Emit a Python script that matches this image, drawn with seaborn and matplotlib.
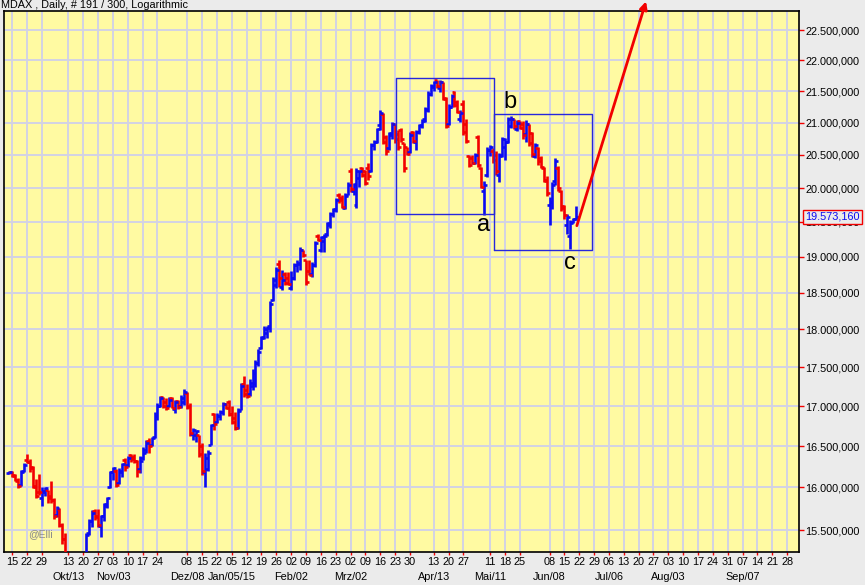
import numpy as np
import pandas as pd
import matplotlib
matplotlib.use('Agg')
import matplotlib.pyplot as plt
import matplotlib.transforms as mtransforms
from matplotlib.ticker import FixedLocator, NullLocator
import seaborn as sns

sns.set_theme(style='white')
plt.rcParams['font.family'] = ['Liberation Sans', 'DejaVu Sans']

# ---------------- data (MDAX daily OHLC) ----------------
opens = [16170,16190,16150,16080,16030,16200,16330,16300,16240,16000,
         15950,15880,15940,15970,15900,15850,15680,15740,15560,15400,
         15150,14950,15000,14650,14800,15050,15050,15460,15600,15720,
         15660,15550,15660,15800,16000,16180,16200,16050,16180,16330,
         16270,16390,16370,16320,16220,16350,16420,16560,16520,16610,
         16880,17000,17110,17050,17000,17100,16960,17060,17000,17050,
         17170,17000,16650,16640,16640,16500,16180,16220,16520,16900,
         16800,16880,16920,17020,17050,16900,16850,16720,16950,17280,
         17200,17150,17250,17300,17560,17750,17900,17950,18050,18400,
         18600,18900,18580,18760,18700,18560,18700,18880,18900,19100,
         18950,18800,18760,18880,19300,19100,19230,19320,19450,19620,
         19690,19900,19850,19700,19900,20250,19950,19750,20150,20300,
         20250,20300,20260,20650,20700,20960,21130,20780,20600,20800,
         20980,20820,20880,20690,20620,20550,20860,20700,20860,20960,
         21050,21200,21450,21560,21670,21550,21640,21390,20980,21250,
         21480,21330,21050,21300,20980,20480,20460,20380,20780,20300,
         19950,20200,20580,20560,20500,20200,20500,20620,20700,20950,
         21050,20900,21020,20980,20820,20980,20840,20480,20600,20450,
         20300,20100,19750,19800,20100,20300,19950,19740,19450,19300,
         19500,19540]
highs = [16200,16200,16160,16110,16210,16290,16400,16340,16260,16100,
         16160,16000,16010,15975,16080,15870,15780,15760,15580,15470,
         15200,15150,15050,14900,15100,15150,15460,15630,15730,15740,
         15740,15680,15820,15890,16200,16250,16220,16230,16290,16350,
         16380,16400,16400,16330,16380,16490,16570,16600,16610,16920,
         17040,17130,17120,17100,17110,17110,17080,17080,17140,17220,
         17180,17040,16720,16700,16640,16540,16410,16450,16770,16910,
         16910,16950,17050,17040,17080,17000,16930,16970,17300,17380,
         17280,17350,17470,17600,17740,17910,18040,18040,18380,18720,
         18860,18960,18820,18790,18780,18800,18920,18950,19140,19100,
         18960,18960,18930,19230,19320,19300,19320,19500,19650,19700,
         19850,19920,19890,19920,20090,20300,20080,20300,20270,20320,
         20270,20380,20690,20730,20920,21200,21150,20800,20860,21010,
         20980,20890,20920,20690,20620,20860,20870,20890,20970,21050,
         21240,21500,21610,21660,21680,21670,21640,21400,21300,21450,
         21500,21350,21200,21350,21050,20500,20500,20530,20810,20320,
         20100,20620,20650,20600,20560,20530,20780,20760,21080,21100,
         21050,21040,21030,21020,21040,20980,20850,20680,20620,20480,
         20320,20180,19860,20090,20460,20330,19970,19750,19620,19530,
         19560,19740]
lows = [16160,16120,16080,15990,16020,16180,16290,16190,15990,15870,
        15910,15780,15900,15820,15810,15630,15650,15530,15340,15050,
        14900,14850,14600,14450,14750,14900,15000,15440,15540,15620,
        15540,15420,15600,15760,15990,16090,16000,16040,16120,16200,
        16250,16300,16290,16120,16170,16330,16410,16420,16500,16600,
        16830,16990,16970,16950,16990,16970,16910,16960,16970,17010,
        16960,16620,16580,16550,16370,16150,16000,16200,16510,16700,
        16790,16830,16890,16960,16880,16780,16700,16710,16950,17120,
        17100,17130,17210,17240,17510,17740,17870,17880,17970,18380,
        18560,18580,18540,18610,18610,18540,18680,18780,18820,19000,
        18610,18740,18720,18860,19220,19070,19070,19300,19410,19580,
        19650,19780,19700,19690,19890,19940,19890,19700,20010,20170,
        20050,20120,20240,20580,20690,20890,20660,20500,20580,20740,
        20690,20580,20700,20240,20500,20530,20680,20580,20820,20920,
        21010,21170,21420,21500,21550,21480,21350,20920,20960,21240,
        21240,21150,21010,20800,20690,20320,20360,20360,20320,20000,
        19600,20170,20480,20380,20200,20090,20470,20420,20690,20920,
        20900,20870,20900,20740,20700,20640,20470,20460,20350,20300,
        20090,19880,19460,19690,20050,19950,19660,19550,19320,19110,
        19480,19530]
closes = [16190,16140,16090,16020,16180,16270,16300,16230,16020,15900,
          15940,15960,15990,15880,15850,15660,15760,15560,15400,15150,
          14950,15000,14700,14750,15050,15000,15440,15600,15700,15650,
          15560,15660,15780,15870,16180,16230,16030,16200,16280,16250,
          16350,16340,16320,16200,16320,16450,16540,16500,16600,16880,
          17000,17100,17000,16980,17080,16980,17050,16990,17100,17180,
          16990,16660,16700,16690,16400,16200,16350,16420,16760,16780,
          16880,16930,17020,16980,16900,16800,16720,16940,17250,17150,
          17130,17300,17430,17560,17700,17880,18000,18020,18350,18680,
          18820,18700,18680,18640,18620,18700,18880,18920,19100,19020,
          18650,18750,18880,19200,19240,19280,19300,19480,19620,19680,
          19820,19820,19720,19880,20050,19980,20060,20250,20260,20200,
          20080,20180,20650,20700,20900,21150,20700,20560,20830,20980,
          20750,20620,20740,20300,20520,20800,20720,20850,20950,21020,
          21220,21450,21580,21640,21580,21640,21380,20950,21250,21420,
          21280,21170,21150,20850,20720,20340,20380,20500,20350,20020,
          20050,20580,20620,20420,20250,20480,20750,20700,21050,21050,
          20940,21000,20920,20800,20980,20680,20520,20650,20400,20320,
          20120,19920,19800,20050,20400,20000,19700,19600,19580,19480,
          19540,19573.16]

holidays = ['2014-10-03', '2014-12-24', '2014-12-25', '2014-12-26', '2014-12-31',
            '2015-01-01', '2015-04-03', '2015-04-06', '2015-05-01']
tick_dates = ['2014-09-15', '2014-09-22', '2014-09-29', '2014-10-13', '2014-10-20',
              '2014-10-27', '2014-11-03', '2014-11-10', '2014-11-17', '2014-11-24',
              '2014-12-08', '2014-12-15', '2014-12-22', '2015-01-05', '2015-01-12',
              '2015-01-19', '2015-01-26', '2015-02-02', '2015-02-09', '2015-02-16',
              '2015-02-23', '2015-03-02', '2015-03-09', '2015-03-16', '2015-03-23',
              '2015-03-30', '2015-04-13', '2015-04-20', '2015-04-27', '2015-05-11',
              '2015-05-18', '2015-05-25', '2015-06-08', '2015-06-15', '2015-06-22',
              '2015-06-29', '2015-07-06', '2015-07-13', '2015-07-20', '2015-07-27',
              '2015-08-03', '2015-08-10', '2015-08-17', '2015-08-24', '2015-08-31',
              '2015-09-07', '2015-09-14', '2015-09-21', '2015-09-28']
month_dates = ['2014-10-13', '2014-11-03', '2014-12-08', '2015-01-05', '2015-02-02',
               '2015-03-02', '2015-04-13', '2015-05-11', '2015-06-08', '2015-07-06',
               '2015-08-03', '2015-09-07']
month_labels = ['Okt/13', 'Nov/03', 'Dez/08', 'Jan/05/15', 'Feb/02', 'Mrz/02',
                'Apr/13', 'Mai/11', 'Jun/08', 'Jul/06', 'Aug/03', 'Sep/07']
price_ticks = [15500, 16000, 16500, 17000, 17500, 18000, 18500, 19000,
               19500, 20000, 20500, 21000, 21500, 22000, 22500]
last_price = 19573.16


def de_fmt(v):
    return f"{v:,.3f}".replace(',', 'X').replace('.', ',').replace('X', '.')


# ---------------- trading-day axis ----------------
days = pd.bdate_range('2014-09-12', '2015-10-09')
days = days[~days.isin(pd.to_datetime(holidays))]
idx = {d: k for k, d in enumerate(days)}
n = len(closes)
x = np.arange(n)
tick_pos = [idx[pd.Timestamp(d)] for d in tick_dates]
tick_lab = [pd.Timestamp(d).strftime('%d') for d in tick_dates]
month_pos = [idx[pd.Timestamp(d)] for d in month_dates]

df = pd.DataFrame({'x': x, 'open': opens, 'high': highs, 'low': lows, 'close': closes})
df['up'] = df['close'] >= df['open']

BLUE = '#0a0af2'
RED = '#f20000'
YELLOW = '#fffaa2'
OUTER = '#ebebeb'
GRID = '#d2d2e4'

fig = plt.figure(figsize=(8.65, 5.85), dpi=100, facecolor=OUTER)
ax = fig.add_axes([4/865, 33/585, 795/865, 541/585])
ax.set_facecolor(YELLOW)
ax.set_yscale('log')
ax.set_xlim(-1.68, 266.0)
ax.set_ylim(15248, 22821)

# grid
ax.set_axisbelow(True)
ax.xaxis.set_major_locator(FixedLocator(tick_pos))
ax.set_xticklabels(tick_lab)
ax.yaxis.set_major_locator(FixedLocator(price_ticks))
ax.yaxis.set_minor_locator(NullLocator())
ax.xaxis.set_minor_locator(NullLocator())
ax.set_yticklabels([de_fmt(v) for v in price_ticks])
ax.grid(True, color=GRID, lw=1.4, zorder=0)

# OHLC bars
colors = np.where(df['up'], BLUE, RED)
ax.vlines(df['x'], df['low'], df['high'], colors=colors, lw=1.9, zorder=3)
ax.hlines(df['open'], df['x'] - 1.0, df['x'], colors=colors, lw=1.9, zorder=3)
ax.hlines(df['close'], df['x'], df['x'] + 1.0, colors=colors, lw=1.9, zorder=3)

# wave boxes
for (x0, x1, y0, y1) in [(130.3, 163.3, 19617, 21709), (163.3, 196.3, 19098, 21135)]:
    ax.plot([x0, x1, x1, x0, x0], [y0, y0, y1, y1, y0], color='#2626dc', lw=1.0, zorder=4)

for lab, lx, ly in [('a', 159.9, 19456), ('b', 168.7, 21324), ('c', 188.9, 18914)]:
    ax.text(lx, ly, lab, fontsize=17, ha='center', va='center', color='black', zorder=5)

# projection arrow
ax.annotate('', xy=(214.5, 22985), xytext=(191.2, 19446),
            arrowprops=dict(arrowstyle='-|>', color=RED, lw=2.0, mutation_scale=11,
                            shrinkA=0, shrinkB=0),
            annotation_clip=False, zorder=6)

# axes styling
for s in ax.spines.values():
    s.set_color('black')
    s.set_linewidth(1.2)
ax.yaxis.tick_right()
ax.tick_params(axis='y', which='major', direction='out', length=3.6, width=1.0,
               color=RED, labelsize=7.8, labelcolor='black', pad=1, right=True, left=False)
ax.tick_params(axis='x', which='major', direction='out', length=2.3, width=1.0,
               color=RED, labelsize=7.8, labelcolor='black', pad=1.5, bottom=True)

trans_x = mtransforms.blended_transform_factory(ax.transData, ax.transAxes)
for p, lab in zip(month_pos, month_labels):
    ax.text(p, -0.0462, lab, transform=trans_x, ha='center', va='center',
            fontsize=7.8, color='black', clip_on=False)

# last price label (covers the 19.500,000 tick label as in the original)
trans_y = mtransforms.blended_transform_factory(ax.transAxes, ax.transData)
ax.text(1.0082, last_price, de_fmt(last_price),
        transform=trans_y, ha='left', va='center', fontsize=7.8, color=BLUE,
        bbox=dict(boxstyle='square,pad=0.22', facecolor=OUTER, edgecolor=RED, lw=1.0),
        clip_on=False, zorder=7)

ax.text(0.030, 0.027, '@Elli', transform=ax.transAxes, color='#8a8a8a', fontsize=7.5,
        va='baseline', ha='left', zorder=5)

fig.text(1/865, 1 - 8.5/585, 'MDAX , Daily, # 191 / 300, Logarithmic', fontsize=7.8,
         color='black', va='baseline', ha='left')

fig.savefig('out.png', dpi=100, facecolor=OUTER)
